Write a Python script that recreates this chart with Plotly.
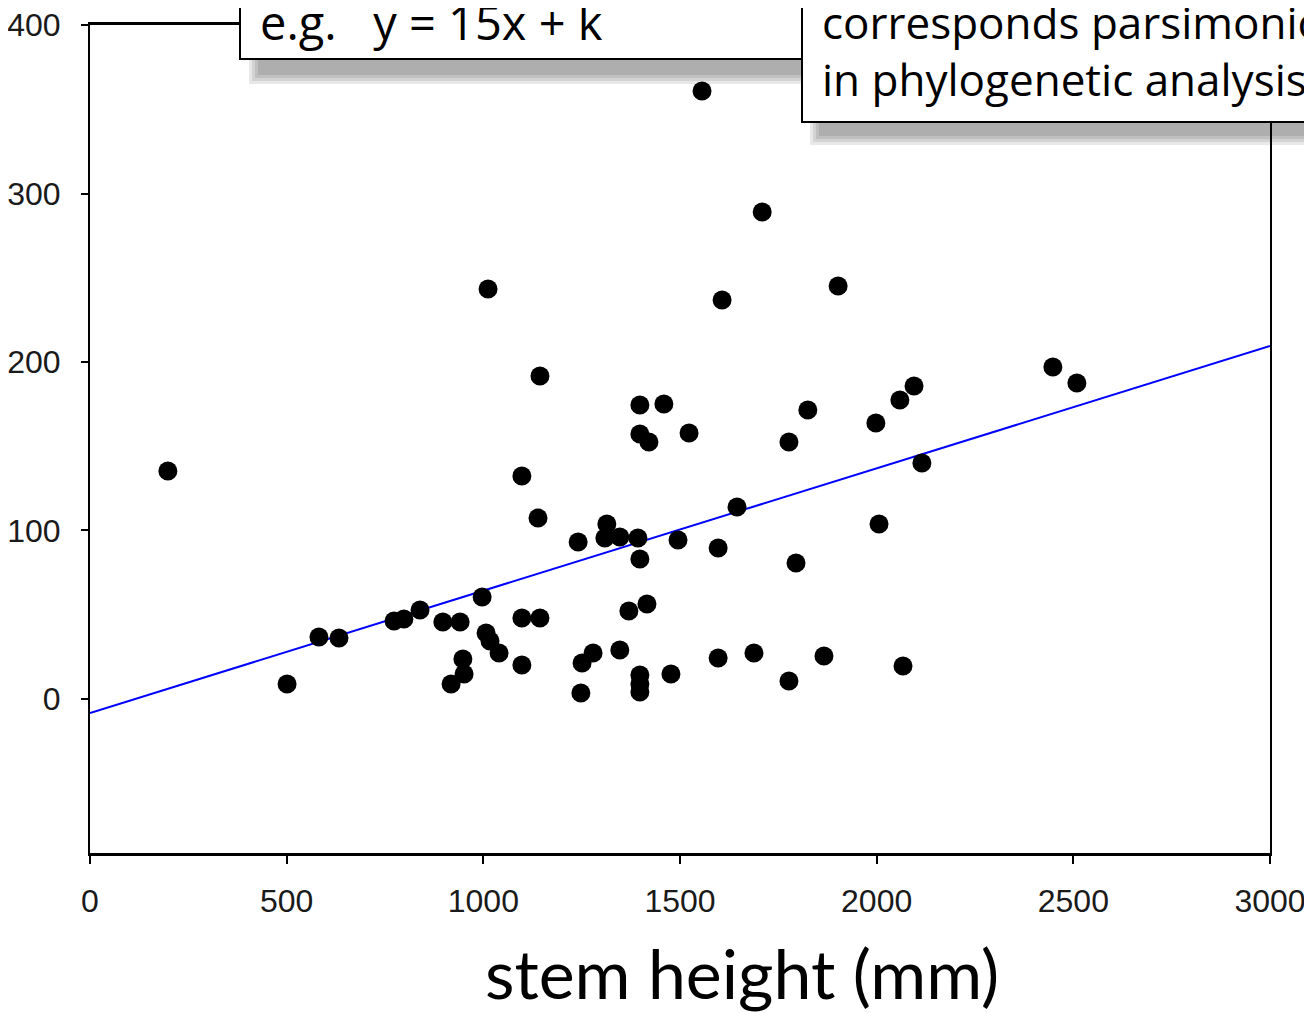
import plotly.graph_objects as go

# Data
stem_height = [198, 501, 582, 633, 773, 798, 839, 897, 941, 918, 951, 948, 997, 1007, 1017, 1040,
               1012, 1098, 1098, 1139, 1098, 1144, 1144, 1241, 1248, 1251, 1279, 1314, 1309, 1347,
               1347, 1393, 1398, 1370, 1416, 1398, 1459, 1398, 1421, 1523, 1398, 1398, 1398, 1477,
               1495, 1556, 1607, 1597, 1597, 1645, 1688, 1709, 1777, 1777, 1795, 1825, 1866, 1902,
               1998, 2006, 2059, 2067, 2095, 2115, 2448, 2509]
y_values = [135.3, 8.9, 36.8, 36.2, 46.3, 47.5, 52.8, 45.7, 45.7, 8.9, 14.8, 23.7, 60.5, 39.2, 34.4, 27.3,
            243.3, 20.2, 132.3, 107.4, 48.1, 48.1, 191.7, 93.2, 3.6, 21.4, 27.3, 103.9, 95.5, 29.1,
            96.1, 95.5, 83.1, 52.2, 56.4, 174.5, 175.1, 157.3, 152.5, 157.9, 14.2, 8.9, 4.2, 14.8,
            94.4, 360.8, 236.8, 89.6, 24.3, 113.9, 27.3, 289.0, 10.7, 152.5, 80.7, 171.5, 25.5, 245.1,
            163.8, 103.9, 177.4, 19.6, 185.8, 140.1, 197.0, 187.5]
fit_x = [0, 3000]
fit_y = [-8.3, 209.5]
x_ticks = [0, 500, 1000, 1500, 2000, 2500, 3000]
y_ticks = [0, 100, 200, 300, 400]
x_title = "stem height (mm)"
box1_text = "e.g.   y = 15x + k"
box2_text = "corresponds parsimoniously<br>in phylogenetic analysis"

OFF = 8  # page body margin offset of the browser
W, H = 1312 - OFF, 1013 - OFF
L, R, T, B = 90 - OFF, 42, 25 - OFF, 160
pw, ph = W - L - R, H - T - B

def px(xp):  # screen pixel x -> paper
    return (xp - OFF - L) / pw

def py(yp):  # screen pixel y -> paper
    return (H - B - (yp - OFF)) / ph

fig = go.Figure()
fig.add_trace(go.Scatter(x=fit_x, y=fit_y, mode="lines",
                         line=dict(color="#0000ff", width=2), hoverinfo="skip"))
fig.add_trace(go.Scatter(x=stem_height, y=y_values, mode="markers",
                         marker=dict(color="black", size=19, line=dict(width=0))))

tickfont = dict(family="Liberation Sans, Arial, sans-serif", size=32, color="#1a1a1a")
fig.update_xaxes(range=[0, 3000], tickvals=x_ticks, ticktext=[str(v) for v in x_ticks],
                 showgrid=False, zeroline=False, showline=True, linecolor="black", linewidth=3,
                 mirror=True, ticks="outside", ticklen=8, tickwidth=2, tickcolor="black",
                 tickfont=tickfont, ticklabelstandoff=10, automargin=False,
                 ticklabeloverflow="allow")
fig.update_yaxes(range=[-91.4, 400], tickvals=y_ticks, ticktext=[str(v) for v in y_ticks],
                 showgrid=False, zeroline=False, showline=True, linecolor="black", linewidth=2,
                 mirror=True, ticks="outside", ticklen=7, tickwidth=2, tickcolor="black",
                 tickfont=tickfont, ticklabelstandoff=14, automargin=False,
                 ticklabeloverflow="allow")

def shadow(x0, x1, ytop, ybot):
    out = []
    for i in range(4):
        d = i * 3
        out.append(dict(type="rect", xref="paper", yref="paper",
                        x0=px(x0 + d), x1=px(x1), y0=py(ybot - d), y1=py(ytop),
                        fillcolor="black", opacity=0.09, line=dict(width=0), layer="above"))
    return out

def box(x0, x1, ytop, ybot):
    return dict(type="rect", xref="paper", yref="paper", x0=px(x0), x1=px(x1),
                y0=py(ybot), y1=py(ytop), fillcolor="white",
                line=dict(color="black", width=2), layer="above")

shapes = []
shapes += shadow(249, 812, 58, 84)
shapes.append(box(240, 812, -20, 59))
shapes += shadow(810, 1340, 121, 145)
shapes.append(box(802, 1340, -20, 122))

annots = [
    dict(text=box1_text, xref="paper", yref="paper", x=px(259), y=py(55),
         xanchor="left", yanchor="bottom", showarrow=False, align="left",
         font=dict(family="Open Sans, sans-serif", size=47, color="black"), borderpad=0),
    dict(text=box2_text, xref="paper", yref="paper", x=px(821), y=py(110),
         xanchor="left", yanchor="bottom", showarrow=False, align="left",
         font=dict(family="Open Sans, sans-serif", size=44, color="black"), borderpad=0),
    dict(text=x_title, xref="paper", yref="paper", x=px(742), y=py(972),
         xanchor="center", yanchor="middle", showarrow=False,
         font=dict(family="Lato, sans-serif", size=68, color="black")),
]

fig.update_layout(width=W, height=H, margin=dict(l=L, r=R, t=T, b=B, autoexpand=False),
                  paper_bgcolor="white", plot_bgcolor="white", showlegend=False,
                  shapes=shapes, annotations=annots)
fig.write_html("out.html")
